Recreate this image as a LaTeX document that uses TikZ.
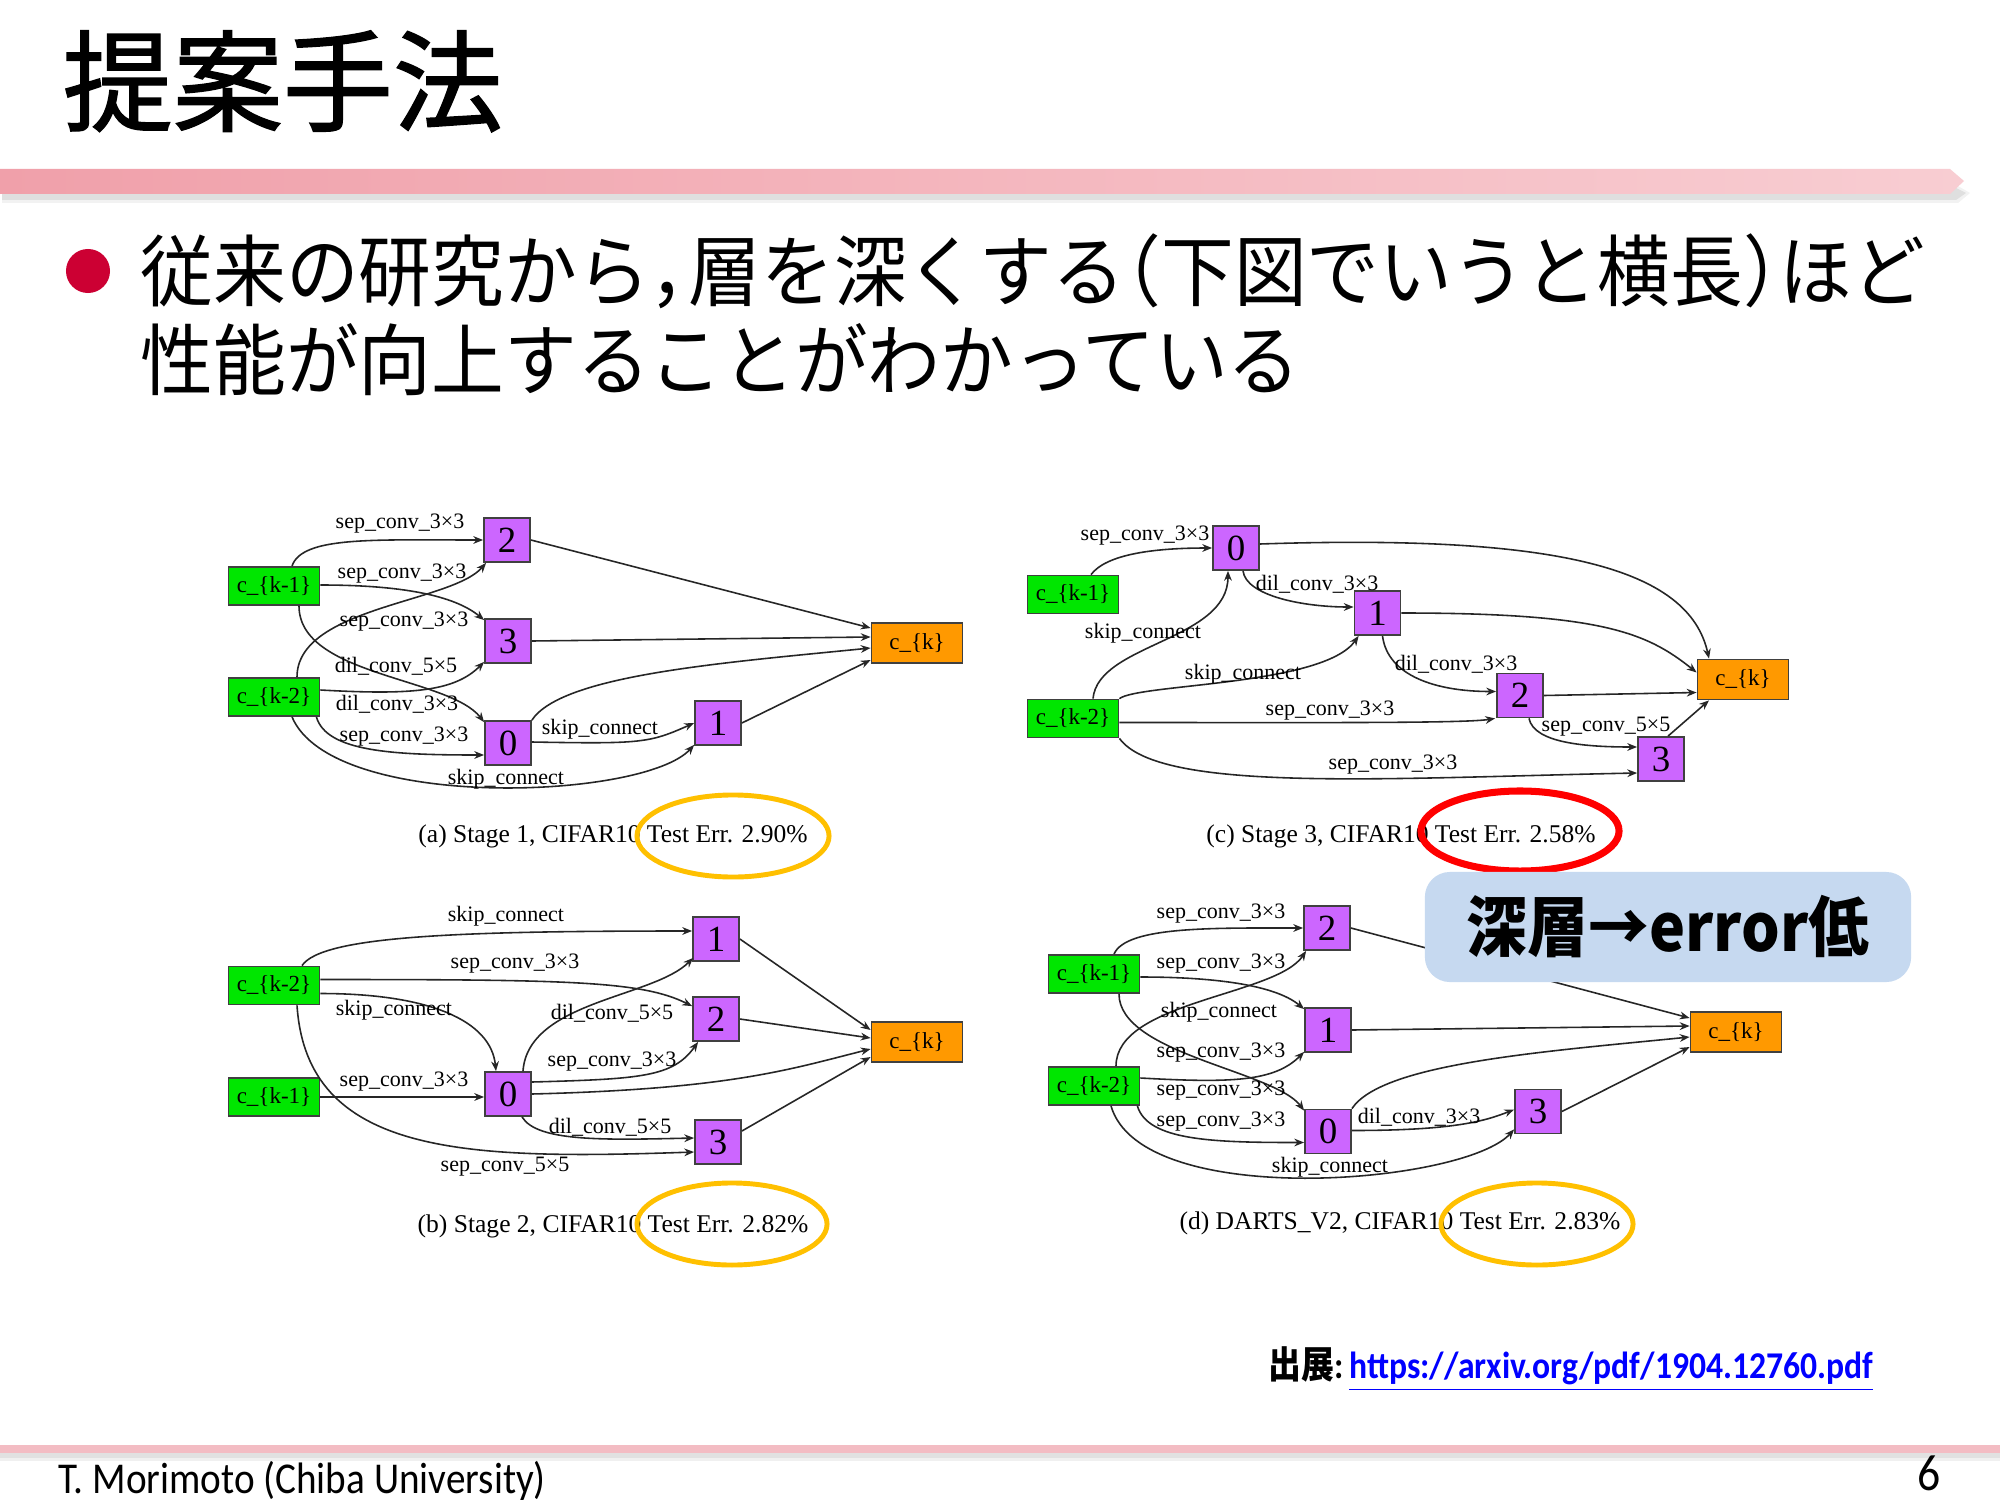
\documentclass[tikz,border=0pt]{standalone}
\usepackage{fontspec}
\setmainfont{Liberation Serif}
\newfontfamily\jpfont[FakeStretch=0.932]{Noto Sans CJK JP}
\newfontfamily\jptitle[FakeBold=1.3]{Noto Sans CJK JP}
\newfontfamily\jpbox[FakeStretch=0.92]{Noto Sans CJK JP}
\newfontfamily\jpsmall[FakeStretch=0.87]{Noto Sans CJK JP}
\newfontfamily\calfont[FakeStretch=0.89]{Carlito}
\newcommand\halfp[1]{{\addfontfeature{RawFeature=+halt}#1}}
\usetikzlibrary{arrows.meta,shapes.geometric}

\definecolor{ngreen}{RGB}{0,230,0}
\definecolor{npurple}{RGB}{204,102,255}
\definecolor{norange}{RGB}{255,153,0}
\definecolor{ringyellow}{RGB}{255,192,0}
\definecolor{ringred}{RGB}{255,0,0}
\definecolor{barleft}{RGB}{240,160,170}
\definecolor{barright}{RGB}{248,205,210}
\definecolor{barlow}{RGB}{243,188,195}
\definecolor{bulletred}{RGB}{204,0,51}
\definecolor{notefill}{RGB}{198,217,240}
\definecolor{linkblue}{RGB}{0,0,255}

\tikzset{
  cell/.style={rectangle, draw=black!75, line width=0.5pt, inner sep=0pt},
  gn/.style={cell, fill=ngreen, minimum width=0.91cm, minimum height=0.38cm,
             font=\fontsize{6.54pt}{7pt}\selectfont},
  pn/.style={cell, fill=npurple, minimum width=0.46cm, minimum height=0.44cm,
             font=\fontsize{10.5pt}{11pt}\selectfont},
  on/.style={cell, fill=norange, minimum width=0.91cm, minimum height=0.40cm,
             font=\fontsize{6.54pt}{7pt}\selectfont},
  edge/.style={draw=black!85, line width=0.45pt, -{Stealth[length=2.8pt,width=2.2pt]}},
  lbl/.style={inner sep=0pt, font=\fontsize{6.26pt}{7pt}\selectfont},
  captext/.style={inner sep=0pt, font=\fontsize{7.26pt}{8pt}\selectfont},
  ringY/.style={draw=ringyellow, line width=1.4pt},
  ringR/.style={draw=ringred, line width=2pt},
}

\begin{document}
\begin{tikzpicture}[x=0.01cm, y=-0.01cm]
\useasboundingbox (0,0) rectangle (2000,1500);
\fill[white] (0,0) rectangle (2000,1500);

% ---------- heading ----------
\node[anchor=base west, inner sep=0pt, font=\fontsize{31.3pt}{32pt}\selectfont] (title) at (62,123) {\jptitle 提案手法};

% pink rule under the heading, with a soft shadow
\fill[black, opacity=0.05] (2,186) -- (1958,186) -- (1970,193) -- (1958,203) -- (2,203) -- cycle;
\fill[black, opacity=0.08] (2,188) -- (1956,188) -- (1966,193) -- (1956,200) -- (2,200) -- cycle;
\shade[left color=barleft, right color=barright] (0,169) -- (1950,169) -- (1964,181) -- (1950,194) -- (0,194) -- cycle;

% ---------- bullet text ----------
\fill[bulletred] (88,271) circle [radius=0.22cm];
\node[anchor=base west, inner sep=0pt, font=\fontsize{22.19pt}{24pt}\selectfont] (line1) at (140,300)
  {\jpfont 従来の研究から\halfp{，}\kern0.03em 層を深くする\halfp{（}下図でいうと横長\halfp{）}ほど};
\node[anchor=base west, inner sep=0pt, font=\fontsize{22.19pt}{24pt}\selectfont] (line2) at (140,389) {\jpfont 性能が向上することがわかっている};

% ---------- (a) Stage 1 ----------
\node[gn] (ak1) at (274,586) {c\_\{k-1\}};
\node[gn] (ak2) at (274,697) {c\_\{k-2\}};
\node[pn] (a2) at (507,540) {2};
\node[pn] (a3) at (508,641) {3};
\node[pn] (a0) at (508,743) {0};
\node[pn] (a1) at (718,723) {1};
\node[on] (ack) at (917,643) {c\_\{k\}};

\draw[edge] ([shift={(18,0)}]ak1.north) .. controls +(10,-30) and +(-110,0) .. (a2.west);
\draw[edge] ([shift={(0,-1)}]ak1.east) .. controls +(80,0) and +(-30,-25) .. ([shift={(0,2)}]a3.north west);
\draw[edge] ([shift={(23,0)}]ak2.north) .. controls +(0,-70) and +(-35,40) .. ([shift={(3,0)}]a2.south west);
\draw[edge] ([shift={(25,0)}]ak1.south) .. controls +(0,70) and +(-35,-45) .. ([shift={(0,2)}]a0.north west);
\draw[edge] ([shift={(0,-7)}]ak2.east) .. controls +(90,5) and +(-30,30) .. ([shift={(0,-2)}]a3.south west);
\draw[edge] ([shift={(-4,0)}]ak2.south east) .. controls +(10,35) and +(-90,0) .. ([shift={(0,12)}]a0.west);
\draw[edge] ([shift={(18,0)}]ak2.south) .. controls +(40,95) and +(-50,55) .. ([shift={(0,-1)}]a1.south west);
\draw[edge] ([shift={(0,-1)}]a0.east) .. controls +(110,2) and +(-45,20) .. (a1.west);
\draw[edge] (a2.east) -- ([shift={(0,-15)}]ack.west);
\draw[edge] (a3.east) -- ([shift={(0,-6)}]ack.west);
\draw[edge] (a0.north east) .. controls +(30,-45) and +(-150,15) .. ([shift={(0,5)}]ack.west);
\draw[edge] (a1.east) -- ([shift={(0,17)}]ack.west);

\node[lbl] (al1) at (400,524) {sep\_conv\_3×3};
\node[lbl] (al2) at (402,574) {sep\_conv\_3×3};
\node[lbl] (al3) at (404,622) {sep\_conv\_3×3};
\node[lbl] (al4) at (396,666) {dil\_conv\_5×5};
\node[lbl] (al5) at (397,704) {dil\_conv\_3×3};
\node[lbl] (al6) at (404,737) {sep\_conv\_3×3};
\node[lbl] (al7) at (506,779) {skip\_connect};
\node[lbl] (al8) at (600,729) {skip\_connect};
\node[captext] (acap) at (613,836) {(a) Stage 1, CIFAR10 Test Err. 2.90\%};
\draw[ringY] (733,836) ellipse [x radius=0.96cm, y radius=0.41cm];

% ---------- (b) Stage 2 ----------
\node[gn] (bk2) at (274,985.5) {c\_\{k-2\}};
\node[gn] (bk1) at (274,1097) {c\_\{k-1\}};
\node[pn] (b1) at (716,939) {1};
\node[pn] (b2) at (716,1019) {2};
\node[pn] (b0) at (508,1094) {0};
\node[pn] (b3) at (718,1142) {3};
\node[on] (bck) at (917,1042) {c\_\{k\}};

\draw[edge] ([shift={(28,0)}]bk2.north) .. controls +(20,-30) and +(-230,0) .. ([shift={(0,-8)}]b1.west);
\draw[edge] ([shift={(0,-6)}]bk2.east) .. controls +(250,0) and +(-50,-25) .. ([shift={(0,10)}]b2.north west);
\draw[edge] ([shift={(0,8)}]bk2.east) .. controls +(110,0) and +(-5,-50) .. ([shift={(-12,0)}]b0.north);
\draw[edge] (bk1.east) -- ([shift={(0,3)}]b0.west);
\draw[edge] ([shift={(23,0)}]bk2.south) .. controls +(10,150) and +(-230,8) .. ([shift={(0,10)}]b3.west);
\draw[edge] ([shift={(15,0)}]b0.north) .. controls +(5,-70) and +(-40,40) .. ([shift={(1,-4)}]b1.south west);
\draw[edge] ([shift={(0,-12)}]b0.east) .. controls +(110,-3) and +(-25,35) .. ([shift={(6,0)}]b2.south west);
\draw[edge] ([shift={(14,0)}]b0.south) .. controls +(15,25) and +(-90,2) .. ([shift={(0,-4)}]b3.west);
\draw[edge] (b0.east) .. controls +(200,-5) and +(-80,20) .. ([shift={(0,7)}]bck.west);
\draw[edge] (b1.east) -- ([shift={(0,-12)}]bck.west);
\draw[edge] (b2.east) -- ([shift={(0,-4)}]bck.west);
\draw[edge] ([shift={(0,-11)}]b3.east) -- ([shift={(0,15)}]bck.west);

\node[lbl] (bl1) at (506,916) {skip\_connect};
\node[lbl] (bl2) at (515,964) {sep\_conv\_3×3};
\node[lbl] (bl3) at (394,1010) {skip\_connect};
\node[lbl] (bl4) at (404,1082) {sep\_conv\_3×3};
\node[lbl] (bl5) at (505,1167) {sep\_conv\_5×5};
\node[lbl] (bl6) at (612,1013) {dil\_conv\_5×5};
\node[lbl] (bl7) at (612,1062) {sep\_conv\_3×3};
\node[lbl] (bl8) at (610,1127) {dil\_conv\_5×5};
\node[captext] (bcap) at (613,1226) {(b) Stage 2, CIFAR10 Test Err. 2.82\%};
\draw[ringY] (732,1224) ellipse [x radius=0.95cm, y radius=0.41cm];

% ---------- (c) Stage 3 ----------
\node[gn] (ck1) at (1073,594.5) {c\_\{k-1\}};
\node[gn] (ck2) at (1073,718.5) {c\_\{k-2\}};
\node[pn] (c0) at (1236,548) {0};
\node[pn] (c1) at (1377.5,613) {1};
\node[pn] (c2) at (1520,695.5) {2};
\node[pn] (c3) at (1661,759) {3};
\node[on] (cck) at (1743,679.5) {c\_\{k\}};

\draw[edge] ([shift={(18,0)}]ck1.north) .. controls +(15,-20) and +(-60,0) .. (c0.west);
\draw[edge] ([shift={(20,0)}]ck2.north) .. controls +(5,-55) and +(0,70) .. ([shift={(-8,0)}]c0.south);
\draw[edge] ([shift={(7,0)}]c0.south) .. controls +(3,25) and +(-50,0) .. ([shift={(0,-6)}]c1.west);
\draw[edge] (ck2.north east) .. controls +(20,-15) and +(-35,50) .. ([shift={(5,0)}]c1.south west);
\draw[edge] ([shift={(5,0)}]c1.south) .. controls +(5,40) and +(-60,0) .. ([shift={(0,-4)}]c2.west);
\draw[edge] ([shift={(0,4)}]ck2.east) .. controls +(200,0) and +(-30,5) .. ([shift={(-1,0)}]c2.south west);
\draw[edge] ([shift={(9,0)}]c2.south) .. controls +(5,25) and +(-50,0) .. ([shift={(0,-12)}]c3.west);
\draw[edge] (ck2.south east) .. controls +(40,55) and +(-250,5) .. ([shift={(0,14)}]c3.west);
\draw[edge] ([shift={(0,-4)}]c0.east) .. controls +(300,-10) and +(-20,-90) .. ([shift={(-34,0)}]cck.north);
\draw[edge] (c1.east) .. controls +(200,0) and +(-50,-40) .. ([shift={(0,-7)}]cck.west);
\draw[edge] (c2.east) -- ([shift={(0,13)}]cck.west);
\draw[edge] ([shift={(7,0)}]c3.north) -- ([shift={(-34,0)}]cck.south);

\node[lbl] (cl1) at (1145,536) {sep\_conv\_3×3};
\node[lbl] (cl2) at (1143,633) {skip\_connect};
\node[lbl] (cl3) at (1317,584) {dil\_conv\_3×3};
\node[lbl] (cl4) at (1243,674) {skip\_connect};
\node[lbl] (cl5) at (1456,664) {dil\_conv\_3×3};
\node[lbl] (cl6) at (1330,711) {sep\_conv\_3×3};
\node[lbl] (cl7) at (1606,727) {sep\_conv\_5×5};
\node[lbl] (cl8) at (1393,765) {sep\_conv\_3×3};
\node[captext] (ccap) at (1401,836) {(c) Stage 3, CIFAR10 Test Err. 2.58\%};
\draw[ringR] (1520,831) ellipse [x radius=0.99cm, y radius=0.40cm];

% ---------- (d) DARTS_V2 ----------
\node[gn] (dk1) at (1094,974) {c\_\{k-1\}};
\node[gn] (dk2) at (1094,1086) {c\_\{k-2\}};
\node[pn] (d2) at (1327,928) {2};
\node[pn] (d1) at (1328,1030) {1};
\node[pn] (d0) at (1328,1131.5) {0};
\node[pn] (d3) at (1538,1111.5) {3};
\node[on] (dck) at (1736,1032) {c\_\{k\}};

\draw[edge] ([shift={(20,0)}]dk1.north) .. controls +(12,-28) and +(-90,0) .. (d2.west);
\draw[edge] ([shift={(0,3)}]dk1.east) .. controls +(70,0) and +(-30,-25) .. ([shift={(0,2)}]d1.north west);
\draw[edge] ([shift={(22,0)}]dk2.north) .. controls +(0,-65) and +(-30,45) .. ([shift={(3,0)}]d2.south west);
\draw[edge] ([shift={(25,0)}]dk1.south) .. controls +(0,60) and +(-30,-40) .. ([shift={(0,2)}]d0.north west);
\draw[edge] ([shift={(0,-8)}]dk2.east) .. controls +(90,5) and +(-30,30) .. ([shift={(0,-1)}]d1.south west);
\draw[edge] ([shift={(-3,0)}]dk2.south east) .. controls +(10,35) and +(-90,0) .. ([shift={(0,11)}]d0.west);
\draw[edge] ([shift={(17,0)}]dk2.south) .. controls +(30,105) and +(-50,55) .. ([shift={(0,-5)}]d3.south west);
\draw[edge] ([shift={(0,-1)}]d0.east) .. controls +(100,0) and +(-30,12) .. ([shift={(0,-2)}]d3.west);
\draw[edge] (d2.east) -- ([shift={(0,-14)}]dck.west);
\draw[edge] (d1.east) -- ([shift={(0,-6)}]dck.west);
\draw[edge] (d0.north east) .. controls +(30,-45) and +(-150,15) .. ([shift={(0,5)}]dck.west);
\draw[edge] (d3.east) -- ([shift={(0,15)}]dck.west);

\node[lbl] (dl1) at (1221,914) {sep\_conv\_3×3};
\node[lbl] (dl2) at (1221,964) {sep\_conv\_3×3};
\node[lbl] (dl3) at (1219,1012) {skip\_connect};
\node[lbl] (dl4) at (1221,1053) {sep\_conv\_3×3};
\node[lbl] (dl5) at (1221,1091) {sep\_conv\_3×3};
\node[lbl] (dl6) at (1221,1122) {sep\_conv\_3×3};
\node[lbl] (dl7) at (1330,1167) {skip\_connect};
\node[lbl] (dl8) at (1419,1117) {dil\_conv\_3×3};
\node[captext] (dcap) at (1400,1223) {(d) DARTS\_V2, CIFAR10 Test Err. 2.83\%};
\draw[ringY] (1537,1224) ellipse [x radius=0.96cm, y radius=0.41cm];

% ---------- call-out ----------
\node[rectangle, rounded corners=0.25cm, fill=notefill, minimum width=4.86cm, minimum height=1.10cm, inner sep=0pt,
      font=\fontsize{18.8pt}{20pt}\selectfont] (note) at (1668,927) {\jpbox\bfseries 深層→error低};

% ---------- source ----------
\node[anchor=base west, inner sep=0pt, font=\fontsize{10.75pt}{12pt}\selectfont] (src) at (1268,1378)
  {\jpsmall\bfseries 出展\calfont\bfseries :\kern0.15em\textcolor{linkblue}{\underline{https://arxiv.org/pdf/1904.12760.pdf}}};

% ---------- footer ----------
\fill[black, opacity=0.06] (0,1451) rectangle (2000,1461);
\fill[black, opacity=0.06] (0,1452) rectangle (2000,1458);
\fill[barlow] (0,1445) rectangle (2000,1453);
\node[anchor=base west, inner sep=0pt, font=\fontsize{12.52pt}{14pt}\selectfont] (author) at (58,1493) {\calfont T. Morimoto (Chiba University)};
\node[anchor=base east, inner sep=0pt, font=\fontsize{14.6pt}{16pt}\selectfont] (page) at (1941,1490) {\calfont 6};
\end{tikzpicture}
\end{document}
